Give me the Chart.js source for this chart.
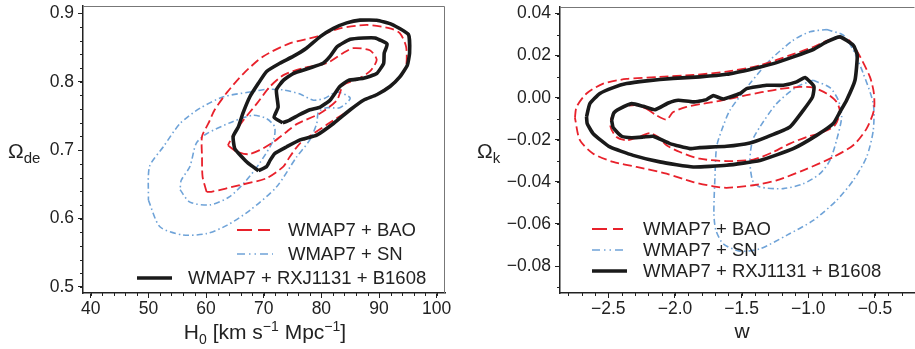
<!DOCTYPE html>
<html lang="en">
<head>
<meta charset="UTF-8">
<title>WMAP7 + lenses constraints</title>
<script src="https://cdn.jsdelivr.net/npm/chart.js"></script>
<style>
  body { margin: 0; background: #fff; width: 915px; height: 349px; overflow: hidden; position: relative;
         font-family: 'Liberation Sans', Arial, sans-serif; color: #222; }
  canvas { position: absolute; top: 0; }
  #left { left: 0; }
  #right { left: 460px; }
  .lbl { position: absolute; font-size: 21px; white-space: nowrap; line-height: 1; }
  .lbl sub, .lbl sup { font-size: 14px; line-height: 0; }
</style>
</head>
<body>

<canvas id="left" width="460" height="349"></canvas>
<canvas id="right" width="455" height="349"></canvas>

<div class="lbl" style="left:8px; top:140px;">&Omega;<sub style="font-size:15px">de</sub></div>
<div class="lbl" style="left:265px; top:321px; transform:translateX(-50%);">H<sub>0</sub> [km s<sup>&minus;1</sup> Mpc<sup>&minus;1</sup>]</div>
<div class="lbl" style="left:477px; top:140px;">&Omega;<sub style="font-size:15px">k</sub></div>
<div class="lbl" style="left:742px; top:320px; transform:translateX(-50%);">w</div>

<script>
// ---- data ----
const seriesLabels = ['WMAP7 + BAO', 'WMAP7 + SN', 'WMAP7 + RXJ1131 + B1608'];

const h0Ticks = [40, 50, 60, 70, 80, 90, 100];
const odeTicks = [0.5, 0.6, 0.7, 0.8, 0.9];
const wTicks = [-2.5, -2.0, -1.5, -1.0, -0.5];
const okTicks = [-0.08, -0.06, -0.04, -0.02, 0.00, 0.02, 0.04];

// left panel: H0 vs Omega_de
const baoOuterH0 = [60.1, 59.4, 59.3, 59.3, 60.4, 61.5, 63.6, 66.5, 69.9, 74.5, 79.2, 83.2, 87.9, 91.9, 93.6, 94.7, 94.7, 93.9, 91.6, 89.0, 87.3, 84.4, 80.9, 78.6, 76.3, 74.5, 73.4, 70.5, 65.9, 60.9];
const baoOuterOde = [0.639, 0.661, 0.690, 0.720, 0.739, 0.759, 0.784, 0.812, 0.837, 0.856, 0.866, 0.878, 0.883, 0.878, 0.871, 0.851, 0.822, 0.810, 0.792, 0.779, 0.773, 0.756, 0.737, 0.724, 0.710, 0.690, 0.676, 0.659, 0.649, 0.639];
const baoInnerH0 = [63.8, 65.3, 67.3, 69.3, 71.7, 74.0, 75.7, 79.8, 82.7, 83.8, 86.1, 88.4, 89.6, 88.4, 85.5, 83.8, 80.9, 76.9, 73.5, 71.1, 68.8, 66.5, 64.7];
const baoInnerOde = [0.707, 0.698, 0.694, 0.700, 0.712, 0.727, 0.738, 0.754, 0.773, 0.795, 0.803, 0.815, 0.832, 0.846, 0.849, 0.842, 0.827, 0.820, 0.810, 0.793, 0.768, 0.744, 0.722];
const snOuterH0 = [50.0, 52.0, 56.0, 60.1, 63.6, 67.6, 72.2, 75.7, 78.0, 79.2, 79.5, 80.9, 83.2, 85.0, 82.7, 80.6, 78.6, 76.3, 73.4, 70.5, 67.6, 63.0, 58.9, 55.5, 52.6, 50.2];
const snOuterOde = [0.627, 0.588, 0.576, 0.578, 0.590, 0.612, 0.646, 0.690, 0.715, 0.739, 0.756, 0.762, 0.762, 0.776, 0.785, 0.776, 0.773, 0.782, 0.788, 0.789, 0.785, 0.778, 0.761, 0.739, 0.705, 0.676];
const snInnerH0 = [55.5, 57.2, 60.7, 64.1, 67.0, 69.3, 71.7, 71.9, 70.5, 68.2, 64.7, 60.1, 58.3, 57.2, 55.7];
const snInnerOde = [0.642, 0.624, 0.620, 0.632, 0.656, 0.681, 0.715, 0.734, 0.746, 0.751, 0.742, 0.724, 0.710, 0.676, 0.656];
const lensOuterH0 = [69.1, 67.3, 65.0, 64.7, 65.6, 66.4, 67.6, 69.1, 70.5, 72.8, 75.1, 77.4, 79.8, 82.1, 84.4, 86.7, 89.6, 92.2, 95.1, 95.3, 94.9, 93.6, 91.9, 89.6, 87.3, 85.0, 82.1, 79.2, 76.3, 74.0, 71.9, 71.1, 70.5];
const lensOuterOde = [0.670, 0.681, 0.702, 0.720, 0.734, 0.754, 0.778, 0.798, 0.815, 0.827, 0.837, 0.849, 0.866, 0.878, 0.886, 0.890, 0.890, 0.884, 0.869, 0.842, 0.824, 0.807, 0.793, 0.781, 0.773, 0.759, 0.739, 0.722, 0.715, 0.705, 0.695, 0.685, 0.676];
const lensInnerH0 = [73.3, 71.8, 72.5, 72.2, 73.4, 75.1, 78.0, 80.3, 81.5, 82.7, 85.0, 87.3, 89.3, 91.4, 90.9, 90.8, 89.6, 87.3, 84.7, 83.2, 81.5, 79.8, 78.0, 76.0, 74.5];
const lensInnerOde = [0.740, 0.748, 0.763, 0.788, 0.802, 0.812, 0.820, 0.827, 0.837, 0.851, 0.862, 0.864, 0.864, 0.855, 0.842, 0.827, 0.812, 0.805, 0.802, 0.793, 0.773, 0.763, 0.759, 0.751, 0.744];

// right panel: w vs Omega_k
const baoOuterW = [-2.750, -2.738, -2.663, -2.538, -2.363, -2.113, -1.863, -1.613, -1.363, -1.113, -0.963, -0.863, -0.763, -0.700, -0.625, -0.538, -0.508, -0.508, -0.563, -0.663, -0.813, -1.038, -1.238, -1.413, -1.613, -1.713, -1.863, -2.063, -2.288, -2.463, -2.613, -2.713];
const baoOuterOk = [-0.0095, -0.0044, 0.0020, 0.0067, 0.0089, 0.0099, 0.0108, 0.0124, 0.0154, 0.0207, 0.0241, 0.0270, 0.0286, 0.0276, 0.0210, 0.0099, 0.0020, -0.0060, -0.0147, -0.0226, -0.0282, -0.0345, -0.0393, -0.0416, -0.0428, -0.0421, -0.0401, -0.0361, -0.0329, -0.0305, -0.0266, -0.0202];
const baoInnerW = [-2.213, -2.138, -2.063, -2.013, -1.913, -1.788, -1.663, -1.463, -1.238, -1.063, -0.963, -0.863, -0.788, -0.763, -0.800, -0.888, -1.013, -1.138, -1.263, -1.413, -1.613, -1.813, -1.963, -2.063, -2.125, -2.188, -2.275, -2.363, -2.438, -2.483, -2.468, -2.388, -2.288];
const baoInnerOk = [-0.0052, -0.0084, -0.0104, -0.0068, -0.0044, -0.0028, -0.0015, 0.0012, 0.0039, 0.0051, 0.0048, 0.0020, -0.0020, -0.0068, -0.0131, -0.0163, -0.0187, -0.0218, -0.0258, -0.0294, -0.0301, -0.0290, -0.0258, -0.0226, -0.0187, -0.0168, -0.0187, -0.0202, -0.0187, -0.0139, -0.0084, -0.0044, -0.0036];
const snOuterW = [-0.863, -0.738, -0.663, -0.588, -0.513, -0.513, -0.563, -0.663, -0.788, -0.963, -1.163, -1.363, -1.513, -1.638, -1.693, -1.708, -1.700, -1.688, -1.650, -1.588, -1.438, -1.288, -1.113, -0.988];
const snOuterOk = [0.0324, 0.0297, 0.0226, 0.0115, -0.0028, -0.0155, -0.0282, -0.0393, -0.0488, -0.0583, -0.0654, -0.0718, -0.0729, -0.0694, -0.0630, -0.0551, -0.0377, -0.0234, -0.0155, -0.0060, 0.0067, 0.0178, 0.0273, 0.0313];
const snInnerW = [-0.963, -0.838, -0.775, -0.750, -0.788, -0.838, -0.913, -1.038, -1.188, -1.363, -1.418, -1.438, -1.418, -1.363, -1.238, -1.088];
const snInnerOk = [0.0083, 0.0048, -0.0012, -0.0091, -0.0202, -0.0298, -0.0361, -0.0409, -0.0432, -0.0424, -0.0393, -0.0298, -0.0202, -0.0139, -0.0028, 0.0051];
const lensOuterW = [-2.663, -2.638, -2.563, -2.463, -2.363, -2.213, -2.013, -1.813, -1.613, -1.413, -1.263, -1.113, -0.963, -0.863, -0.763, -0.663, -0.633, -0.650, -0.713, -0.763, -0.813, -0.938, -1.113, -1.363, -1.613, -1.863, -2.113, -2.313, -2.488, -2.613, -2.658];
const lensOuterOk = [-0.0091, -0.0028, 0.0020, 0.0048, 0.0067, 0.0080, 0.0092, 0.0099, 0.0111, 0.0138, 0.0162, 0.0194, 0.0229, 0.0265, 0.0289, 0.0249, 0.0202, 0.0083, -0.0012, -0.0068, -0.0123, -0.0179, -0.0242, -0.0298, -0.0321, -0.0329, -0.0305, -0.0274, -0.0234, -0.0171, -0.0123];
const lensInnerW = [-2.475, -2.458, -2.413, -2.325, -2.238, -2.150, -2.050, -1.975, -1.863, -1.763, -1.713, -1.638, -1.513, -1.463, -1.313, -1.188, -1.088, -1.025, -0.958, -0.968, -1.038, -1.138, -1.313, -1.438, -1.613, -1.813, -1.888, -2.038, -2.163, -2.238, -2.325, -2.400, -2.463];
const lensInnerOk = [-0.0107, -0.0072, -0.0052, -0.0028, -0.0041, -0.0057, -0.0025, -0.0012, -0.0020, -0.0009, 0.0010, -0.0006, 0.0020, 0.0043, 0.0059, 0.0059, 0.0075, 0.0096, 0.0054, 0.0004, -0.0060, -0.0139, -0.0187, -0.0215, -0.0231, -0.0237, -0.0242, -0.0218, -0.0183, -0.0187, -0.0190, -0.0183, -0.0142];

// ---- styling ----
const FONT = "'Liberation Sans', Arial, sans-serif";
const styles = [
  { color: '#e8212b', width: 1.8, dash: [9, 4], legendDash: [15, 6], tension: 0.25, order: 1 },
  { color: '#6fa3d8', width: 1.6, dash: [6, 3, 1.5, 3], legendDash: [8, 4, 1.5, 4, 1.5, 4], tension: 0.25, order: 2 },
  { color: '#1a1a1a', width: 3.6, dash: [], legendDash: [], tension: 0.15, order: 0 }
];

function contour(xs, ys, s) {
  const pts = xs.map((x, i) => ({ x: x, y: ys[i] }));
  pts.push(pts[0]);
  const st = styles[s];
  return { data: pts, borderColor: st.color, borderWidth: st.width, borderDash: st.dash,
           tension: st.tension, order: st.order, showLine: true, pointRadius: 0, fill: false };
}

function axis(min, max, ticks, digits, fixed, isX) {
  return {
    type: 'linear', min: min, max: max,
    afterBuildTicks: s => { s.ticks = ticks.map(v => ({ value: v })); },
    afterFit: s => {
      if (isX) s.height = fixed; else s.width = fixed;
      // keep the plot box exactly where the padding puts it
      s.paddingTop = 0; s.paddingBottom = 0; s.paddingLeft = 0; s.paddingRight = 0;
    },
    ticks: { autoSkip: false, maxRotation: 0, padding: isX ? 1 : 4, color: '#222',
             font: { family: FONT, size: 17.5 },
             callback: v => v.toFixed(digits).replace('-', '\u2212') },
    grid: { drawOnChartArea: false, drawTicks: true, tickLength: 5, color: '#222', lineWidth: 1 },
    border: { color: '#222', width: 1.5 }
  };
}

// frame, minor ticks and in-plot legend
const extras = {
  id: 'extras',
  afterDraw(chart, args, o) {
    const { ctx, chartArea: a, scales: { x, y } } = chart;
    ctx.save();
    ctx.strokeStyle = '#777';
    ctx.lineWidth = 1;
    ctx.beginPath();
    ctx.moveTo(a.left, a.top + 0.5);
    ctx.lineTo(a.right - 0.5, a.top + 0.5);
    if (o.rightFrame) ctx.lineTo(a.right - 0.5, a.bottom);
    ctx.stroke();

    ctx.strokeStyle = '#222';
    ctx.beginPath();
    for (let v = o.minorX[0]; v <= x.max + 1e-9; v += o.minorX[1]) {
      const px = Math.round(x.getPixelForValue(v)) + 0.5;
      if (px < a.left || px > a.right) continue;
      ctx.moveTo(px, a.bottom); ctx.lineTo(px, a.bottom + 3);
    }
    for (let v = o.minorY[0]; v <= y.max + 1e-9; v += o.minorY[1]) {
      const py = Math.round(y.getPixelForValue(v)) + 0.5;
      if (py < a.top || py > a.bottom) continue;
      ctx.moveTo(a.left, py); ctx.lineTo(a.left - 3, py);
    }
    ctx.stroke();

    ctx.font = '18.5px ' + FONT;
    ctx.fillStyle = '#222';
    ctx.textBaseline = 'middle';
    o.legend.forEach((r, i) => {
      const st = styles[i];
      ctx.strokeStyle = st.color;
      ctx.lineWidth = st.width;
      ctx.setLineDash(st.legendDash);
      ctx.beginPath();
      ctx.moveTo(r[0], r[3]); ctx.lineTo(r[1], r[3]);
      ctx.stroke();
      ctx.setLineDash([]);
      ctx.fillText(seriesLabels[i], r[2], r[3] + 1);
    });
    ctx.restore();
  }
};

function makeChart(id, sets, scales, padding, extraOpts) {
  new Chart(document.getElementById(id), {
    type: 'scatter',
    data: { datasets: sets },
    options: {
      responsive: false, animation: false,
      layout: { padding: padding },
      scales: scales,
      plugins: { legend: { display: false }, tooltip: { enabled: false }, extras: extraOpts }
    },
    plugins: [extras]
  });
}

makeChart('left', [
  contour(baoOuterH0, baoOuterOde, 0), contour(baoInnerH0, baoInnerOde, 0),
  contour(snOuterH0, snOuterOde, 1), contour(snInnerH0, snInnerOde, 1),
  contour(lensOuterH0, lensOuterOde, 2), contour(lensInnerH0, lensInnerOde, 2)
], {
  x: axis(38.66, 101.44, h0Ticks, 0, 56, true),
  y: axis(0.4912, 0.9107, odeTicks, 1, 83, false)
}, { top: 6, right: 15, left: 0, bottom: 0 }, {
  rightFrame: true, minorX: [40, 2], minorY: [0.5, 0.02],
  legend: [[237, 270, 288, 230], [237, 273, 288, 254], [137, 172, 188, 278]]
});

makeChart('right', [
  contour(baoOuterW, baoOuterOk, 0), contour(baoInnerW, baoInnerOk, 0),
  contour(snOuterW, snOuterOk, 1), contour(snInnerW, snInnerOk, 1),
  contour(lensOuterW, lensOuterOk, 2), contour(lensInnerW, lensInnerOk, 2)
], {
  x: axis(-2.862, -0.2, wTicks, 1, 56, true),
  y: axis(-0.0928, 0.0431, okTicks, 2, 100, false)
}, { top: 7, right: 0, left: 0, bottom: 0 }, {
  rightFrame: false, minorX: [-2.8, 0.1], minorY: [-0.09, 0.01],
  legend: [[132, 163, 183, 229], [132, 167, 183, 250], [132, 167, 183, 271]]
});
</script>
</body>
</html>
